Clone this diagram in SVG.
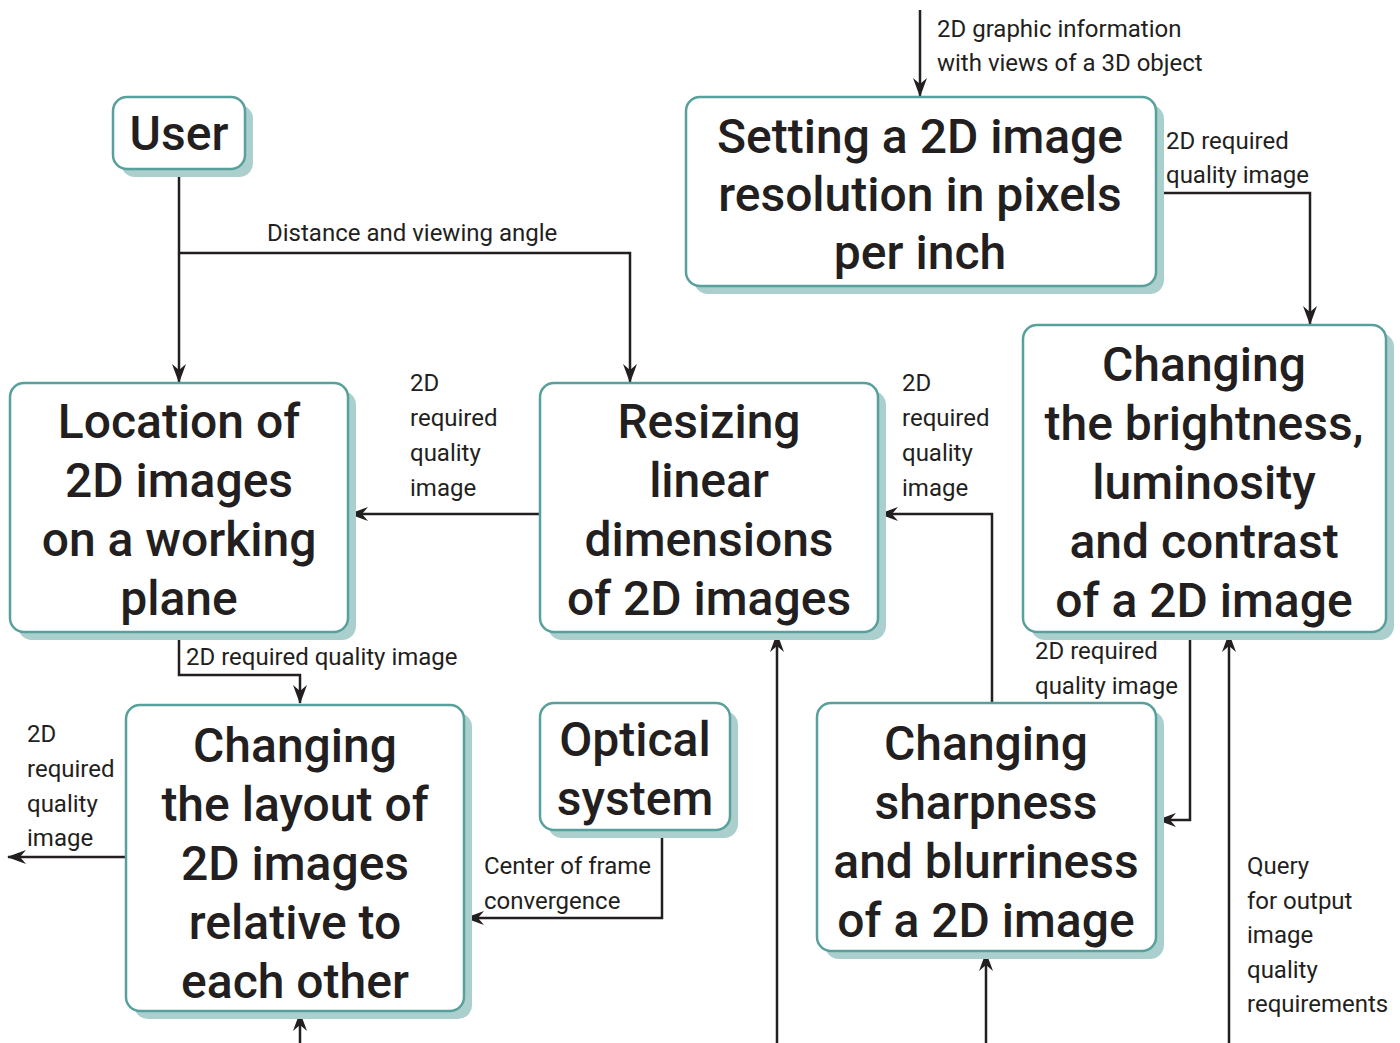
<svg xmlns="http://www.w3.org/2000/svg" width="1400" height="1043" viewBox="0 0 1400 1043">
  <style>
    .shadow { fill: #aacfcd; }
    .box { fill: #ffffff; stroke: #58a09c; stroke-width: 2.5; }
    .title { font-family: Roboto, "Liberation Sans", sans-serif; font-weight: 500; font-size: 48px; fill: #231f20; text-anchor: middle; }
    .lbl { font-family: Roboto, "Liberation Sans", sans-serif; font-size: 24px; fill: #231f20; }
    .wire { fill: none; stroke: #231f20; stroke-width: 2.5; marker-end: url(#arrow); }
  </style>
  <defs>
    <marker id="arrow" viewBox="0 0 19 14" refX="18" refY="7" markerWidth="19" markerHeight="14" markerUnits="userSpaceOnUse" orient="auto">
      <path d="M0,0 L19,7 L0,14 L6,7 z" fill="#231f20"/>
    </marker>
  </defs>

  <rect width="1400" height="1043" fill="#ffffff"/>

  <!-- connectors -->
  <g id="connectors">
    <path class="wire" d="M179,170 V382"/>
    <path class="wire" d="M179,253 H630 V382"/>
    <path class="wire" d="M540,514 H350"/>
    <path class="wire" d="M992,703 V514 H880"/>
    <path class="wire" d="M920,10 V96"/>
    <path class="wire" d="M1157,193 H1310 V324"/>
    <path class="wire" d="M1190,633 V820 H1158"/>
    <path class="wire" d="M1229,1043 V634"/>
    <path class="wire" d="M179,633 V675 H300 V703"/>
    <path class="wire" d="M126,857 H8"/>
    <path class="wire" d="M662,831 V918 H466"/>
    <path class="wire" d="M300,1043 V1013"/>
    <path class="wire" d="M777,1043 V634"/>
    <path class="wire" d="M986,1043 V953"/>

    <text class="lbl" x="267" y="241">Distance and viewing angle</text>
    <text class="lbl"><tspan x="410" y="391">2D</tspan><tspan x="410" y="426">required</tspan><tspan x="410" y="461">quality</tspan><tspan x="410" y="496">image</tspan></text>
    <text class="lbl"><tspan x="902" y="391">2D</tspan><tspan x="902" y="426">required</tspan><tspan x="902" y="461">quality</tspan><tspan x="902" y="496">image</tspan></text>
    <text class="lbl"><tspan x="937" y="37">2D graphic information</tspan><tspan x="937" y="71">with views of a 3D object</tspan></text>
    <text class="lbl"><tspan x="1166" y="149">2D required</tspan><tspan x="1166" y="183">quality image</tspan></text>
    <text class="lbl"><tspan x="1035" y="659">2D required</tspan><tspan x="1035" y="694">quality image</tspan></text>
    <text class="lbl"><tspan x="1247" y="874">Query</tspan><tspan x="1247" y="909">for output</tspan><tspan x="1247" y="943">image</tspan><tspan x="1247" y="978">quality</tspan><tspan x="1247" y="1012">requirements</tspan></text>
    <text class="lbl" x="186" y="665">2D required quality image</text>
    <text class="lbl"><tspan x="27" y="742">2D</tspan><tspan x="27" y="777">required</tspan><tspan x="27" y="812">quality</tspan><tspan x="27" y="846">image</tspan></text>
    <text class="lbl"><tspan x="484" y="874">Center of frame</tspan><tspan x="484" y="909">convergence</tspan></text>
  </g>

  <!-- nodes -->
  <g id="user">
    <rect class="shadow" x="121" y="105" width="132" height="72" rx="14"/>
    <rect class="box" x="113" y="97" width="132" height="72" rx="14"/>
    <text class="title" x="179" y="150">User</text>
  </g>

  <g id="setting-resolution">
    <rect class="shadow" x="694" y="105" width="470" height="189" rx="14"/>
    <rect class="box" x="686" y="97" width="470" height="189" rx="14"/>
    <text class="title"><tspan x="920" y="153">Setting a 2D image</tspan><tspan x="920" y="211">resolution in pixels</tspan><tspan x="920" y="269">per inch</tspan></text>
  </g>

  <g id="location">
    <rect class="shadow" x="18" y="391" width="338" height="249" rx="14"/>
    <rect class="box" x="10" y="383" width="338" height="249" rx="14"/>
    <text class="title"><tspan x="179" y="438">Location of</tspan><tspan x="179" y="497">2D images</tspan><tspan x="179" y="556">on a working</tspan><tspan x="179" y="615">plane</tspan></text>
  </g>

  <g id="resizing">
    <rect class="shadow" x="548" y="391" width="338" height="249" rx="14"/>
    <rect class="box" x="540" y="383" width="338" height="249" rx="14"/>
    <text class="title"><tspan x="709" y="438">Resizing</tspan><tspan x="709" y="497">linear</tspan><tspan x="709" y="556">dimensions</tspan><tspan x="709" y="615">of 2D images</tspan></text>
  </g>

  <g id="brightness">
    <rect class="shadow" x="1031" y="333" width="363" height="307" rx="14"/>
    <rect class="box" x="1023" y="325" width="363" height="307" rx="14"/>
    <text class="title"><tspan x="1204" y="381">Changing</tspan><tspan x="1204" y="440">the brightness,</tspan><tspan x="1204" y="499">luminosity</tspan><tspan x="1204" y="558">and contrast</tspan><tspan x="1204" y="617">of a 2D image</tspan></text>
  </g>

  <g id="layout">
    <rect class="shadow" x="134" y="713" width="338" height="306" rx="14"/>
    <rect class="box" x="126" y="705" width="338" height="306" rx="14"/>
    <text class="title"><tspan x="295" y="762">Changing</tspan><tspan x="295" y="821">the layout of</tspan><tspan x="295" y="880">2D images</tspan><tspan x="295" y="939">relative to</tspan><tspan x="295" y="998">each other</tspan></text>
  </g>

  <g id="optical">
    <rect class="shadow" x="548" y="711" width="190" height="127" rx="14"/>
    <rect class="box" x="540" y="703" width="190" height="127" rx="14"/>
    <text class="title"><tspan x="635" y="756">Optical</tspan><tspan x="635" y="815">system</tspan></text>
  </g>

  <g id="sharpness">
    <rect class="shadow" x="825" y="711" width="339" height="248" rx="14"/>
    <rect class="box" x="817" y="703" width="339" height="248" rx="14"/>
    <text class="title"><tspan x="986" y="760">Changing</tspan><tspan x="986" y="819">sharpness</tspan><tspan x="986" y="878">and blurriness</tspan><tspan x="986" y="937">of a 2D image</tspan></text>
  </g>
</svg>
